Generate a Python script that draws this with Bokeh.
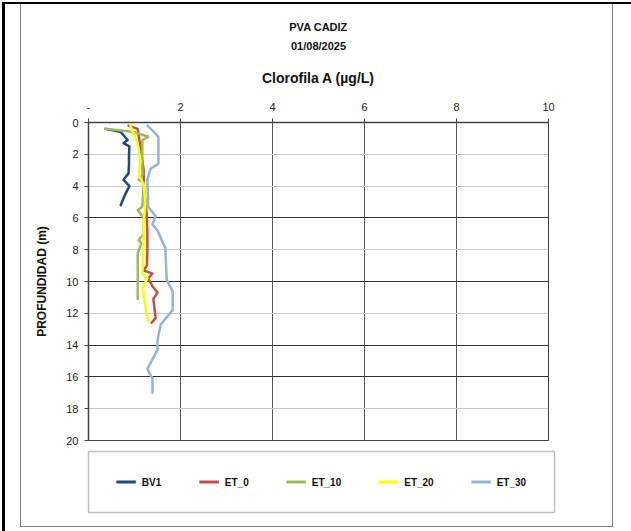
from bokeh.plotting import figure
from bokeh.layouts import column
from bokeh.models import (Range1d, FixedTicker, Title, Legend, LegendItem, Grid)
from bokeh.embed import file_html
from bokeh.resources import INLINE

# ---- data ----
series_names = ["BV1", "ET_0", "ET_10", "ET_20", "ET_30"]
series_colors = ["#1F497D", "#C0504D", "#9BBB59", "#FFFF00", "#95B3D7"]

bv1_depth = [0.4, 0.6, 1.1, 1.3, 1.5, 2.0, 2.6, 3.2, 3.6, 4.0, 4.5, 5.2]
bv1_chl = [0.37, 0.70, 0.85, 0.76, 0.89, 0.88, 0.88, 0.87, 0.76, 0.89, 0.80, 0.70]

et0_depth = [0.2, 0.4, 1.0, 2.0, 3.0, 4.0, 5.0, 6.0, 7.0, 8.0, 9.0, 9.3, 9.5, 9.8,
             10.3, 10.7, 11.1, 12.3, 12.6]
et0_chl = [0.87, 1.07, 1.10, 1.15, 1.20, 1.20, 1.24, 1.27, 1.28, 1.28, 1.27, 1.20,
           1.39, 1.30, 1.39, 1.50, 1.41, 1.46, 1.37]

et10_depth = [0.4, 0.6, 0.9, 1.1, 2.0, 3.3, 3.6, 3.8, 5.3, 5.5, 6.0, 7.0, 7.4, 7.6,
              8.2, 9.0, 10.0, 11.1]
et10_chl = [0.37, 0.98, 1.30, 1.17, 1.17, 1.17, 1.09, 1.20, 1.17, 1.07, 1.20, 1.20,
            1.09, 1.15, 1.07, 1.07, 1.07, 1.07]

et20_depth = [0.2, 0.8, 1.3, 2.4, 3.3, 3.9, 5.1, 6.2, 7.4, 8.5, 9.5, 9.8, 10.4, 11.6, 12.5]
et20_chl = [0.91, 1.00, 1.07, 1.13, 1.09, 1.20, 1.24, 1.20, 1.20, 1.19, 1.17, 1.28,
            1.17, 1.24, 1.30]

et30_depth = [0.2, 0.5, 0.9, 2.6, 2.9, 3.6, 5.3, 5.9, 6.4, 6.8, 7.9, 9.9, 10.6, 11.8,
              12.7, 13.7, 14.3, 15.5, 16.1, 17.0]
et30_chl = [1.28, 1.39, 1.52, 1.52, 1.35, 1.28, 1.30, 1.46, 1.39, 1.50, 1.67, 1.70,
            1.83, 1.83, 1.57, 1.50, 1.50, 1.28, 1.39, 1.39]

x_ticks = [0, 2, 4, 6, 8, 10]
x_tick_labels = {0: "-"}
y_ticks = [0, 2, 4, 6, 8, 10, 12, 14, 16, 18, 20]
dark_y_grid = [6, 10, 14, 16]
light_y_grid = [2, 4, 8, 12, 18]

FONT = "Liberation Sans"

all_depths = [bv1_depth, et0_depth, et10_depth, et20_depth, et30_depth]
all_vals = [bv1_chl, et0_chl, et10_chl, et20_chl, et30_chl]

# ---------------- main chart ----------------
p = figure(frame_width=460, frame_height=318, output_backend="svg", toolbar_location=None,
           x_range=Range1d(0, 10), y_range=Range1d(20, 0),
           x_axis_location="above",
           min_border_left=88, min_border_right=83,
           min_border_top=122, min_border_bottom=6)
p.title.visible = False
p.background_fill_color = "white"
p.border_fill_alpha = 0
p.outline_line_color = "#404040"
p.outline_line_width = 1

for ax in (p.xaxis[0], p.yaxis[0]):
    ax.axis_line_color = "#404040"
    ax.axis_line_width = 1.5
    ax.major_tick_line_color = "#404040"
    ax.major_tick_out = 4
    ax.major_tick_in = 0
    ax.minor_tick_line_color = None
    ax.major_label_text_font = FONT
    ax.major_label_text_font_size = "11px"
    ax.major_label_text_color = "#222222"

p.xaxis.ticker = FixedTicker(ticks=x_ticks)
p.xaxis.major_label_overrides = x_tick_labels
p.xaxis.major_label_standoff = 8
p.yaxis.ticker = FixedTicker(ticks=y_ticks)
p.yaxis.major_label_standoff = 6
p.yaxis.axis_label = "PROFUNDIDAD (m)"
p.yaxis.axis_label_text_font = FONT
p.yaxis.axis_label_text_font_style = "bold"
p.yaxis.axis_label_text_font_size = "12px"
p.yaxis.axis_label_text_color = "#111111"
p.yaxis.axis_label_standoff = 14

p.xgrid.ticker = FixedTicker(ticks=x_ticks)
p.xgrid.grid_line_color = "#555555"
p.xgrid.grid_line_width = 1
p.ygrid.visible = False
p.add_layout(Grid(dimension=1, ticker=FixedTicker(ticks=light_y_grid),
                  grid_line_color="#C8C8C8", grid_line_width=1))
p.add_layout(Grid(dimension=1, ticker=FixedTicker(ticks=dark_y_grid),
                  grid_line_color="#333333", grid_line_width=1))

p.add_layout(Title(text="Clorofila A (µg/L)", align="center", text_font=FONT,
                   text_font_size="14px", text_font_style="bold",
                   text_color="#111111", standoff=27), "above")
p.add_layout(Title(text="01/08/2025", align="center", text_font=FONT,
                   text_font_size="11px", text_font_style="bold",
                   text_color="#111111", standoff=6), "above")
p.add_layout(Title(text="PVA CADIZ", align="center", text_font=FONT,
                   text_font_size="11px", text_font_style="bold",
                   text_color="#111111", standoff=4), "above")

for col, d, v in zip(series_colors, all_depths, all_vals):
    p.line(v, d, line_color=col, line_width=2.5, line_join="round", line_cap="round")

# ---------------- legend strip (series drawn off-range; only the key is seen) ----------------
lg = figure(frame_width=466, frame_height=61, output_backend="svg", toolbar_location=None,
            x_range=Range1d(100, 101), y_range=Range1d(100, 101),
            x_axis_location=None, y_axis_location=None,
            min_border_left=80, min_border_right=85,
            min_border_top=5, min_border_bottom=19)
lg.title.visible = False
lg.xgrid.visible = False
lg.ygrid.visible = False
lg.background_fill_color = "white"
lg.border_fill_alpha = 0
lg.outline_line_color = "#BFBFBF"
lg.outline_line_width = 1.5

items = []
for name, col, d, v in zip(series_names, series_colors, all_depths, all_vals):
    r = lg.line(v, d, line_color=col, line_width=3)
    items.append(LegendItem(label=name, renderers=[r]))

legend = Legend(items=items, orientation="horizontal", location="center",
                spacing=37, label_standoff=6, glyph_width=20, glyph_height=10,
                label_height=10, padding=0, margin=0,
                label_text_font=FONT, label_text_font_size="10px",
                label_text_font_style="bold", label_text_color="#111111",
                border_line_color=None, background_fill_alpha=0)
lg.add_layout(legend, "center")

layout = column(p, lg, spacing=0)
layout.styles = {
    "box-shadow": ", ".join([
        "inset 2px 0 0 0 white",
        "inset 0 2px 0 0 white",
        "inset 5px 0 0 0 black",
        "inset 0 4px 0 0 black",
        "inset 0 -4px 0 0 white",
        "inset -18px 0 0 0 white",
        "inset 20px 0 0 0 white",
        "inset 0 -5px 0 0 #808080",
        "inset -19px 0 0 0 #808080",
        "inset 21px 0 0 0 #808080",
    ])
}

open("out.html", "w").write(file_html(layout, INLINE))
